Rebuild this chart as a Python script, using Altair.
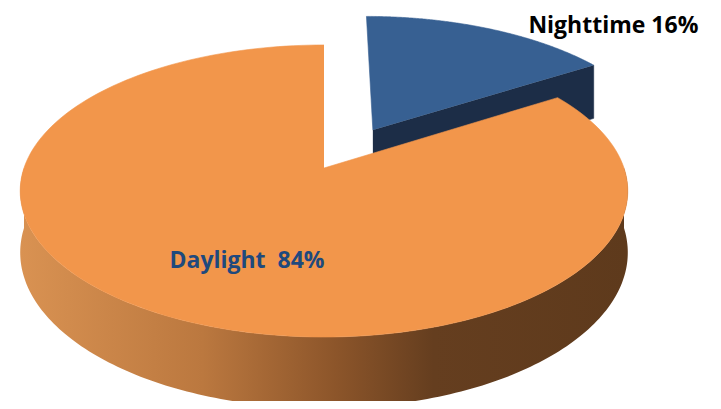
import altair as alt
import pandas as pd

# ---- data ----
categories = ["Nighttime", "Daylight"]
values = [16, 84]
exploded = ["Nighttime"]

# ---- styling / layout ----
TOP_COLOR = {"Nighttime": "#376092", "Daylight": "#F2964B"}
NIGHT_SIDE = "#1C2D47"
DAY_SIDE_STOPS = [(0.0, "#D99252"), (0.30, "#BB783F"), (0.52, "#8C552A"),
                  (0.68, "#653E1F"), (1.0, "#5E3A1C")]
LABEL_DAY_COLOR = "#1F497D"
FONT = "Open Sans"

W, H = 705, 393
CX, CY = 324, 168        # pie centre (pixel space of the page)
RX, RY = 300, 142.4      # radii of the perspective ellipse
K = 0.1575               # perspective factor
DEPTH = 60               # thickness of the pie
EU, EV = 0.17, 0.279     # explosion offset of the exploded slice
N = 180

df = pd.DataFrame({"category": categories, "value": values,
                   "order": list(range(len(categories)))})

xs = alt.X("px:Q", scale=alt.Scale(domain=[8, 8 + W], zero=False, nice=False), axis=None)
ys = alt.Y("py:Q", scale=alt.Scale(domain=[8, 8 + H], zero=False, nice=False, reverse=True), axis=None)
ex_js = "[" + ",".join("'" + c + "'" for c in exploded) + "]"


def base():
    return (alt.Chart(df)
            .transform_joinaggregate(total="sum(value)")
            .transform_window(cum="sum(value)", sort=[alt.SortField("order")], frame=[None, 0])
            .transform_calculate(
                t0="2*PI*(datum.cum - datum.value)/datum.total",
                t1="2*PI*datum.cum/datum.total",
                eu=f"indexof({ex_js}, datum.category) >= 0 ? {EU} : 0",
                ev=f"indexof({ex_js}, datum.category) >= 0 ? {EV} : 0",
            ))


def project(ch):
    return ch.transform_calculate(
        w=f"1 + {K}*datum.v",
        px=f"{CX} + {RX}*datum.u/datum.w",
        py=f"{CY} - {RY}*datum.v/datum.w + datum.bot*{DEPTH}/datum.w",
    )


def top_face(cat):
    ch = (base().transform_filter(alt.datum.category == cat)
          .transform_calculate(idx=f"sequence(-1, {N + 1})")
          .transform_flatten(["idx"], as_=["i"])
          .transform_calculate(
              s="datum.i < 0 ? 0 : 1",
              bot="0",
              t=f"datum.t0 + (datum.t1 - datum.t0)*max(datum.i, 0)/{N}",
              u="datum.eu + datum.s*sin(datum.t)",
              v="datum.ev + datum.s*cos(datum.t)"))
    c = TOP_COLOR[cat]
    return project(ch).mark_line(fill=c, stroke=c, strokeWidth=0.6).encode(
        x=xs, y=ys, order="i:Q")


def wall(cat):
    ch = (base().transform_filter(alt.datum.category == cat)
          .transform_calculate(ta="max(datum.t0, PI/2)", tb="min(datum.t1, 3*PI/2)")
          .transform_filter("datum.tb > datum.ta")
          .transform_calculate(idx=f"sequence(0, {2 * N + 2})")
          .transform_flatten(["idx"], as_=["i"])
          .transform_calculate(
              j=f"datum.i <= {N} ? datum.i : {2 * N + 1} - datum.i",
              bot=f"datum.i > {N} ? 1 : 0",
              t=f"datum.ta + (datum.tb - datum.ta)*datum.j/{N}",
              u="datum.eu + sin(datum.t)",
              v="datum.ev + cos(datum.t)"))
    grad = alt.Gradient(gradient="linear", x1=0, x2=1, y1=0, y2=0,
                        stops=[alt.GradientStop(offset=o, color=c) for o, c in DAY_SIDE_STOPS])
    return project(ch).mark_line(fill=grad, strokeWidth=0).encode(
        x=xs, y=ys, order="i:Q")


def cut_face(cat):
    ch = (base().transform_filter(alt.datum.category == cat)
          .transform_calculate(idx="sequence(0, 4)")
          .transform_flatten(["idx"], as_=["i"])
          .transform_calculate(
              s="(datum.i == 1 || datum.i == 2) ? 1 : 0",
              bot="datum.i >= 2 ? 1 : 0",
              t="datum.t1",
              u="datum.eu + datum.s*sin(datum.t)",
              v="datum.ev + datum.s*cos(datum.t)"))
    return project(ch).mark_line(fill=NIGHT_SIDE, stroke=NIGHT_SIDE, strokeWidth=0.6).encode(
        x=xs, y=ys, order="i:Q")


def label(cat, f, sep, **mk):
    ch = (base().transform_filter(alt.datum.category == cat)
          .transform_calculate(
              tm="(datum.t0 + datum.t1)/2",
              bot="0",
              u=f"datum.eu + {f}*sin(datum.tm)",
              v=f"datum.ev + {f}*cos(datum.tm)",
              lab=f"datum.category + '{sep}' + datum.value + '%'"))
    return project(ch).mark_text(font=FONT, fontWeight="bold", baseline="alphabetic", **mk).encode(
        x=xs, y=ys, text="lab:N")


chart = alt.layer(
    cut_face("Nighttime"),
    top_face("Nighttime"),
    wall("Daylight"),
    top_face("Daylight"),
    label("Daylight", 0.683, " \u00a0", align="center", dx=32, dy=6, fontSize=23, color=LABEL_DAY_COLOR),
    label("Nighttime", 1.088, " ", align="left", dx=30, dy=12, fontSize=23, color="#000000"),
).properties(
    width=W, height=H, padding=0,
    autosize=alt.AutoSizeParams(type="none"),
).configure_view(stroke=None)

chart.save("out.html", embed_options={"renderer": "svg", "actions": False})
